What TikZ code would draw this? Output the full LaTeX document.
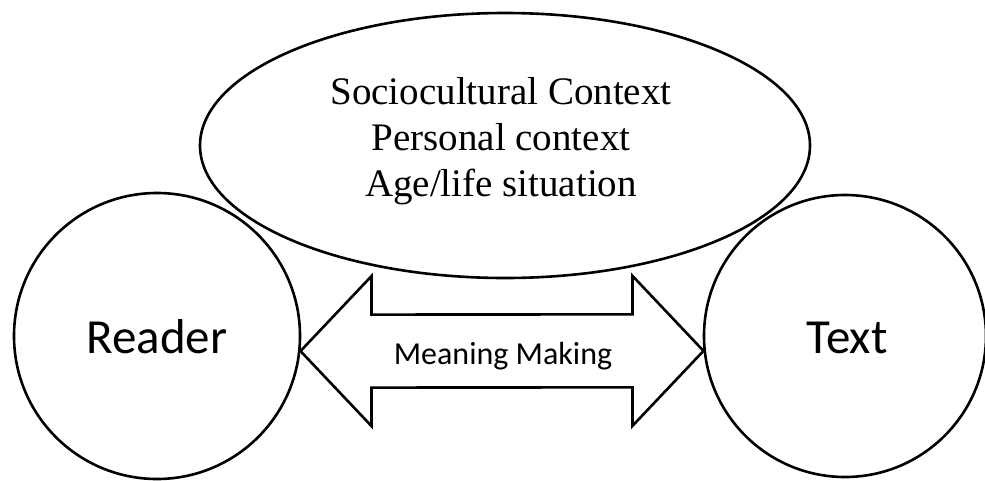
\documentclass[tikz,border=0pt]{standalone}
\usepackage{fontspec}
\setmainfont{Liberation Serif}
\newfontfamily\calib{Carlito}
\usetikzlibrary{shapes.geometric}
\begin{document}
\begin{tikzpicture}[x=1pt,y=-1pt,
  outline/.style={draw=black,line width=2.6pt},
  ctx/.style={font=\fontsize{39}{46}\selectfont,align=center},
  big/.style={font=\calib\fontsize{49}{55}\selectfont,anchor=base},
  mid/.style={font=\calib\fontsize{32}{36}\selectfont,anchor=base}]
\useasboundingbox (0,0) rectangle (985,480);
\node[outline,ellipse,minimum width=610pt,minimum height=265pt,inner sep=0pt] (ctxell) at (505,145.5) {};
\node[ctx] (ctxtext) at (501,141) {Sociocultural Context\\Personal context\\Age/life situation};
\node[outline,circle,minimum size=286pt,inner sep=0pt] (reader) at (157,336) {};
\node[big] (readertxt) at (157,353) {Reader};
\node[outline,circle,minimum size=282pt,inner sep=0pt] (text) at (845,336) {};
\node[big] (texttxt) at (847,353) {Text};
\coordinate (lt) at (reader.-6.4);
\coordinate (rt) at (text.186.5);
\draw[outline,line join=miter]
  (lt) -- ([xshift=71pt,yshift=-75pt]lt) -- ([xshift=71pt,yshift=-36.5pt]lt)
  -- ([xshift=-71pt,yshift=-36.5pt]rt) -- ([xshift=-71pt,yshift=-75pt]rt)
  -- (rt) -- ([xshift=-71pt,yshift=75pt]rt) -- ([xshift=-71pt,yshift=36.5pt]rt)
  -- ([xshift=71pt,yshift=36.5pt]lt) -- ([xshift=71pt,yshift=75pt]lt) -- cycle;
\node[mid] (mm) at (503,364) {Meaning Making};
\end{tikzpicture}
\end{document}
